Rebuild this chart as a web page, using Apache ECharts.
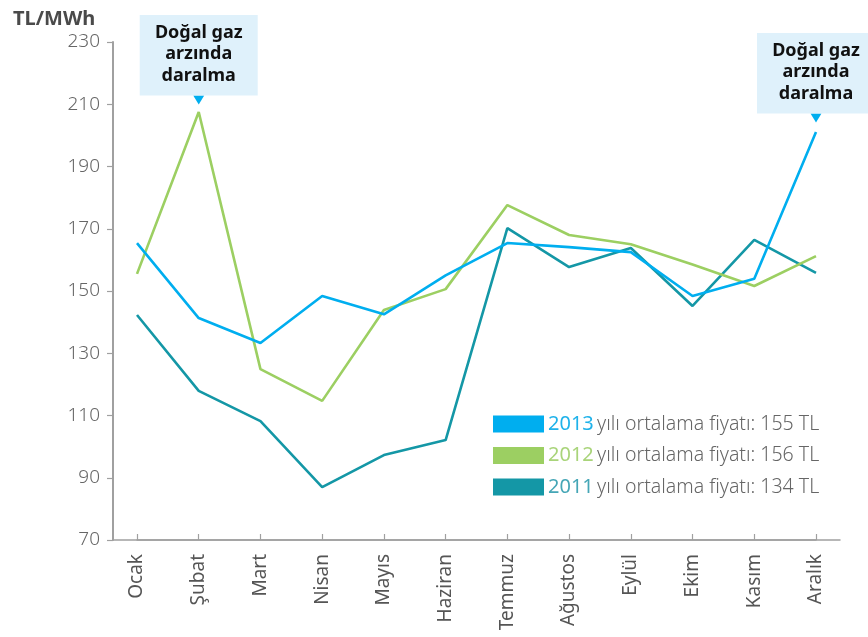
<!DOCTYPE html>
<html>
<head>
<meta charset="utf-8">
<script src="https://cdn.jsdelivr.net/npm/echarts@6/dist/echarts.min.js"></script>
<style>html,body{margin:0;padding:0;background:#fff;}#c{width:868px;height:637px;}</style>
</head>
<body>
<div id="c"></div>
<script>
const months = ['Ocak','Şubat','Mart','Nisan','Mayıs','Haziran','Temmuz','Ağustos','Eylül','Ekim','Kasım','Aralık'];
const s2013 = [165.4, 141.3, 133.3, 148.4, 142.5, 155.0, 165.4, 164.1, 162.5, 148.4, 153.9, 201.1];
const s2012 = [155.5, 207.5, 124.9, 114.7, 143.9, 150.6, 177.6, 168.0, 165.0, 158.5, 151.6, 161.2];
const s2011 = [142.3, 117.9, 108.2, 87.0, 97.3, 102.1, 170.2, 157.7, 163.8, 145.2, 166.4, 155.8];
const years = ['2013', '2012', '2011'];
const averages = [155, 156, 134];
const colors = ['#00aeef', '#9ccf62', '#1497a6'];
const yearTextColors = ['#1fb2ea', '#a9d47a', '#45a6b6'];
const annotationText = 'Doğal gaz\narzında\ndaralma';

const chart = echarts.init(document.getElementById('c'));
const font = '"Noto Sans", "Open Sans", sans-serif';

const annLabel = {
  show: true,
  formatter: annotationText,
  position: 'top',
  distance: 0,
  backgroundColor: '#dff1fb',
  width: 118,
  padding: [7, 0, 9, 0],
  lineHeight: 21.5,
  fontSize: 18,
  fontWeight: 'bold',
  fontFamily: font,
  color: '#111'
};

const rich = { t: { color: '#666', fontSize: 19.5, fontWeight: 300, fontFamily: font } };
years.forEach((y, i) => {
  rich['y' + y] = { color: yearTextColors[i], fontSize: 20, fontWeight: 'normal', fontFamily: font };
});

chart.setOption({
  animation: false,
  title: {
    text: 'TL/MWh', left: 8, top: 4,
    textStyle: { fontSize: 20, fontWeight: 'bold', color: '#4a4a4a', fontFamily: font }
  },
  legend: {
    orient: 'vertical', left: 488, top: 409,
    itemWidth: 51, itemHeight: 17, itemGap: 11.5,
    icon: 'rect',
    data: years,
    formatter: function (name) {
      const i = years.indexOf(name);
      return '{y' + name + '|' + name + '} {t|yılı ortalama fiyatı: ' + averages[i] + ' TL}';
    },
    textStyle: { rich: rich, padding: [0, 0, 0, -1] }
  },
  grid: [
    { left: 113, right: 28, top: 42, bottom: 97 },
    { left: 137, right: 52, top: 42, bottom: 97 }
  ],
  xAxis: [
    {
      gridIndex: 0, type: 'value', min: 0, max: 1,
      axisLine: { show: true, lineStyle: { color: '#a0a0a0', width: 1.5 } },
      axisTick: { show: false }, axisLabel: { show: false }, splitLine: { show: false }
    },
    {
      gridIndex: 1, type: 'category', data: months, boundaryGap: false,
      axisLine: { show: true, lineStyle: { color: '#a0a0a0', width: 1.5 } },
      axisTick: { show: true, inside: true, length: 6, lineStyle: { color: '#a0a0a0', width: 1.2 } },
      axisLabel: { rotate: 90, margin: 14, color: '#555', fontSize: 19, fontFamily: font, interval: 0 },
      splitLine: { show: false }
    }
  ],
  yAxis: [
    {
      gridIndex: 0, type: 'value', min: 70, max: 230, interval: 20,
      axisLine: { show: true, lineStyle: { color: '#a0a0a0', width: 2 } },
      axisTick: { show: true, length: 6, lineStyle: { color: '#a0a0a0', width: 1.2 } },
      axisLabel: { margin: 13, color: '#666', fontSize: 19, fontWeight: 300, fontFamily: font },
      splitLine: { show: false }
    },
    {
      gridIndex: 1, type: 'value', min: 70, max: 230, interval: 20, show: false
    }
  ],
  series: [
    {
      name: '2013', type: 'line', xAxisIndex: 1, yAxisIndex: 1, data: s2013,
      symbol: 'none', color: colors[0], lineStyle: { width: 2.6, color: colors[0] }, z: 4,
      markPoint: {
        symbol: 'triangle', symbolRotate: 180, symbolSize: [11, 9],
        itemStyle: { color: '#00aeef' },
        label: annLabel,
        data: [{ coord: ['Aralık', s2013[11]], symbolOffset: [0, -14] }]
      }
    },
    {
      name: '2012', type: 'line', xAxisIndex: 1, yAxisIndex: 1, data: s2012,
      symbol: 'none', color: colors[1], lineStyle: { width: 2.6, color: colors[1] }, z: 3,
      markPoint: {
        symbol: 'triangle', symbolRotate: 180, symbolSize: [11, 9],
        itemStyle: { color: '#00aeef' },
        label: annLabel,
        data: [{ coord: ['Şubat', s2012[1]], symbolOffset: [0, -12] }]
      }
    },
    {
      name: '2011', type: 'line', xAxisIndex: 1, yAxisIndex: 1, data: s2011,
      symbol: 'none', color: colors[2], lineStyle: { width: 2.6, color: colors[2] }, z: 2
    }
  ]
});
</script>
</body>
</html>
